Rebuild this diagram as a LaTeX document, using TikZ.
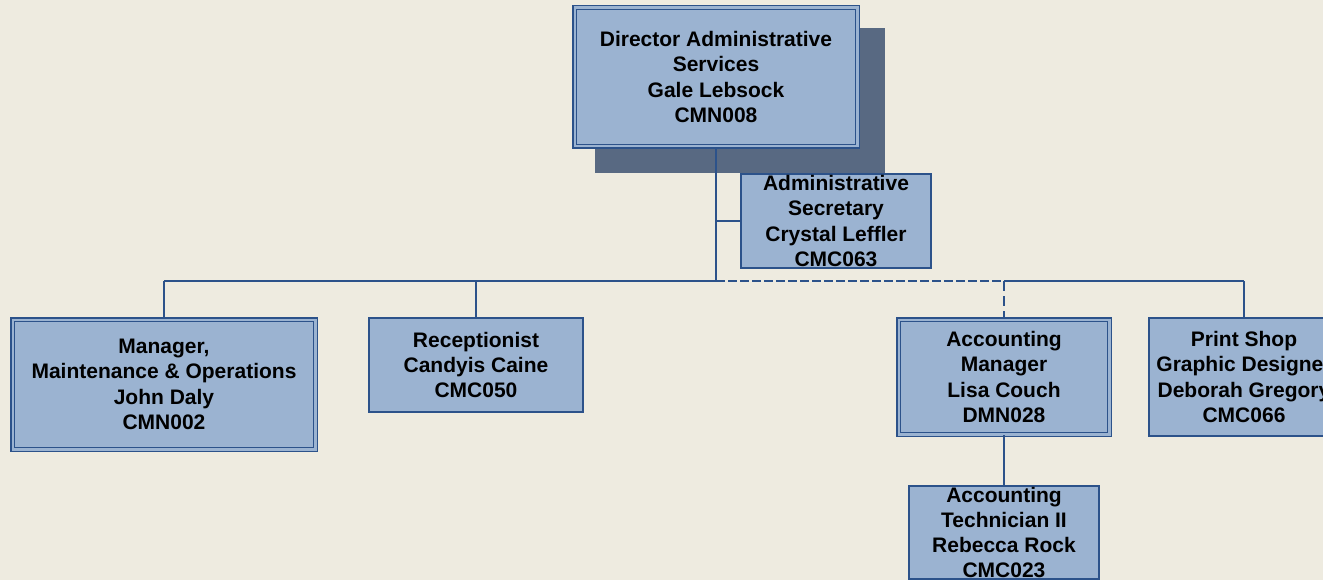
\documentclass[tikz,border=0pt]{standalone}
\usepackage{fontspec}
\setmainfont{Liberation Sans}
\definecolor{bg}{RGB}{238,235,224}
\definecolor{boxfill}{RGB}{155,179,209}
\definecolor{bord}{RGB}{44,82,138}
\definecolor{shadowc}{RGB}{88,105,130}
\begin{document}
\begin{tikzpicture}[x=1pt,y=-1pt,
  txt/.style={font=\bfseries\fontsize{21}{25.3}\selectfont, align=center, inner sep=0pt, text=black},
  single/.style={txt, draw=bord, fill=boxfill, line width=1.7pt},
  dbl/.style={txt, draw=bord, fill=boxfill, line width=1.5pt, double=boxfill, double distance=2.4pt},
  conn/.style={draw=bord, line width=1.8pt},
  dashconn/.style={conn, dash pattern=on 10pt off 5pt}]
\useasboundingbox[fill=bg] (0,0) rectangle (1323,580);
\begin{scope}
\clip (0,0) rectangle (1323,580);
% shadow
\fill[shadowc] (595,28) rectangle (885,173);
\node[dbl, minimum width=282.6pt, minimum height=138.6pt] (dir) at (716,77)
  {Director Administrative\\Services\\Gale Lebsock\\CMN008};
\node[single, minimum width=190.3pt, minimum height=94.3pt] (sec) at (836,221)
  {Administrative\\Secretary\\Crystal Leffler\\CMC063};
\node[dbl, minimum width=302.6pt, minimum height=129.6pt] (mgr) at (164,384.5)
  {Manager,\\Maintenance \& Operations\\John Daly\\CMN002};
\node[single, minimum width=214.3pt, minimum height=94.3pt] (rec) at (476,365)
  {Receptionist\\Candyis Caine\\CMC050};
\node[dbl, minimum width=210.6pt, minimum height=114.6pt] (acc) at (1004,377)
  {Accounting\\Manager\\Lisa Couch\\DMN028};
\node[single, minimum width=190.3pt, minimum height=118.3pt] (prt) at (1244,377)
  {Print Shop\\Graphic Designer\\Deborah Gregory\\CMC066};
\node[single, minimum width=190.3pt, minimum height=93.3pt] (tec) at (1004,532.5)
  {Accounting\\Technician II\\Rebecca Rock\\CMC023};
\coordinate (bus) at (716,281);
% connectors
\draw[conn] (dir.south) -- (bus);
\draw[conn] (sec.west) -- (sec.west -| dir.south);
\draw[conn] (mgr.north |- bus) -- (bus);
\draw[conn, dash pattern=on 9pt off 3pt] (bus) -- (acc.north |- bus);
\draw[conn] (acc.north |- bus) -- (prt.north |- bus);
\draw[conn] (mgr.north |- bus) -- (mgr.north);
\draw[conn] (rec.north |- bus) -- (rec.north);
\draw[dashconn] (acc.north |- bus) -- (acc.north);
\draw[conn] (prt.north |- bus) -- (prt.north);
\draw[conn] (acc.south) -- (tec.north);
\end{scope}
\end{tikzpicture}
\end{document}
